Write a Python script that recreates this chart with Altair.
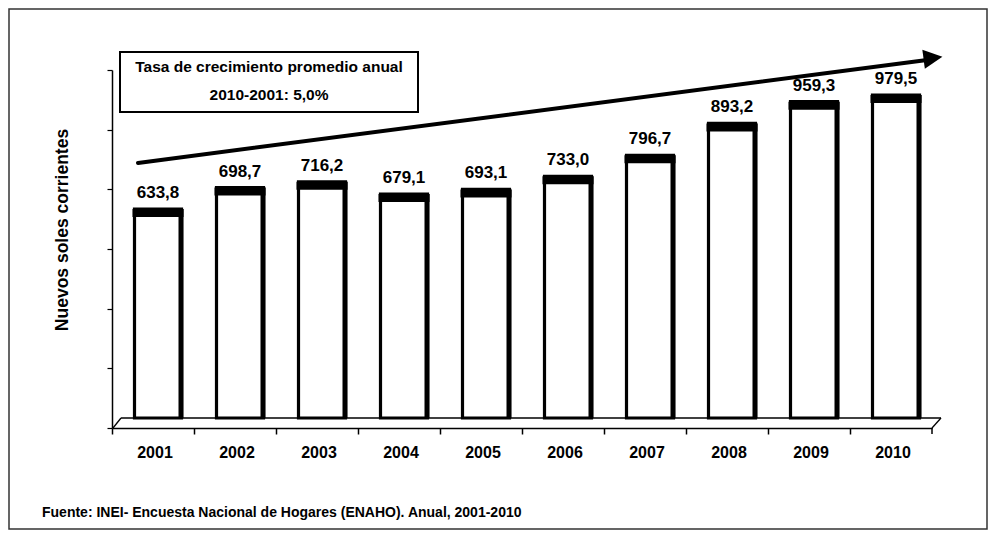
import altair as alt
import pandas as pd

# ---- data ----
years = ["2001", "2002", "2003", "2004", "2005", "2006", "2007", "2008", "2009", "2010"]
ingreso = [633.8, 698.7, 716.2, 679.1, 693.1, 733.0, 796.7, 893.2, 959.3, 979.5]
axis_ticks = [0, 200, 400, 600, 800, 1000, 1200]

box_lines = ["Tasa de crecimiento promedio anual", "2010-2001: 5,0%"]
y_title = "Nuevos soles corrientes"
fuente = "Fuente: INEI- Encuesta Nacional de Hogares (ENAHO). Anual, 2001-2010"

df = pd.DataFrame({"year": years, "ingreso": ingreso})
one = pd.DataFrame({"k": [0]})
FONT = "Liberation Sans"

xenc = alt.X("year:O", scale=alt.Scale(paddingInner=0, paddingOuter=0),
             axis=alt.Axis(title=None, labelFont=FONT, labelFontSize=16, labelFontWeight="bold",
                           labelColor="black", labelAngle=0, labelPadding=10, labelOffset=2,
                           bandPosition=0, tickSize=6, tickColor="black", tickWidth=1.5,
                           domainColor="black", domainWidth=1.5))
yscale = alt.Scale(domain=[-30.3, 1055.3], zero=False, nice=False)
yenc = alt.Y("ingreso:Q", scale=yscale, axis=None)

base = alt.Chart(df)

# y axis layer (independent scale, ticks only)
axis_layer = alt.Chart(pd.DataFrame({"t": axis_ticks})).mark_point(opacity=0).encode(
    y=alt.Y("t:Q", scale=alt.Scale(domain=[0, 1200], nice=False),
            axis=alt.Axis(title=None, values=axis_ticks, labels=False, tickSize=5,
                          tickColor="black", tickWidth=1.2, domainColor="black",
                          domainWidth=1.5, grid=False))
)

# outer border
border = alt.Chart(one).mark_rect(fill=None, stroke="#333", strokeWidth=1.5).encode(
    x=alt.value(-103), x2=alt.value(875), y=alt.value(-61), y2=alt.value(459))

# floor
floor_back = alt.Chart(one).mark_rule(color="black", strokeWidth=1.3).encode(
    x=alt.value(9), x2=alt.value(829), y=alt.value(348), y2=alt.value(348))
floor_left = alt.Chart(one).mark_rule(color="black", strokeWidth=1.3).encode(
    x=alt.value(1), x2=alt.value(9), y=alt.value(358), y2=alt.value(348))
floor_right = alt.Chart(one).mark_rule(color="black", strokeWidth=1.3).encode(
    x=alt.value(820), x2=alt.value(829), y=alt.value(358), y2=alt.value(348))
last_tick = alt.Chart(one).mark_rule(color="black", strokeWidth=1.5).encode(
    x=alt.value(820), y=alt.value(358), y2=alt.value(364))

bars = base.mark_bar(size=47, fill="white", stroke="black", strokeWidth=3.2, xOffset=5).encode(
    x=xenc, y=yenc, y2=alt.datum(0))
tops = base.mark_tick(thickness=8, size=51, color="black", opacity=1, yOffset=4, xOffset=5).encode(
    x=xenc, y=yenc)
right_edge = base.mark_rule(color="black", strokeWidth=5, xOffset=28).encode(
    x=xenc, y=yenc, y2=alt.datum(0))
labels = base.mark_text(font=FONT, fontSize=17, fontWeight="bold", baseline="alphabetic",
                        dy=-11, xOffset=5).transform_calculate(
    lab="replace(format(datum.ingreso, '.1f'), '.', ',')").encode(
    x=xenc, y=yenc, text="lab:N")

# arrow
arrow_line = alt.Chart(one).mark_rule(color="black", strokeWidth=4, strokeCap="round").encode(
    x=alt.value(26), y=alt.value(93), x2=alt.value(815), y2=alt.value(-10))
arrow_head = alt.Chart(one).mark_point(shape="M -1 -1 L 1 0 L -1 1 Z", size=360, filled=True,
                                       color="black", opacity=1, angle=352.5).encode(
    x=alt.value(821), y=alt.value(-12))

# text box
box = alt.Chart(one).mark_rect(fill="white", stroke="black", strokeWidth=2).encode(
    x=alt.value(8), x2=alt.value(306), y=alt.value(-18), y2=alt.value(42))
box_t1 = alt.Chart(one).mark_text(text=box_lines[0], font=FONT, fontSize=15.5, fontWeight="bold",
                                  align="center", baseline="middle").encode(
    x=alt.value(157), y=alt.value(-3))
box_t2 = alt.Chart(one).mark_text(text=box_lines[1], font=FONT, fontSize=15.5, fontWeight="bold",
                                  align="center", baseline="middle").encode(
    x=alt.value(157), y=alt.value(25))

ytitle = alt.Chart(one).mark_text(text=y_title, font=FONT, fontSize=17.5, fontWeight="bold",
                                  angle=270, align="center", baseline="middle").encode(
    x=alt.value(-49), y=alt.value(160))
note = alt.Chart(one).mark_text(text=fuente, font=FONT, fontSize=14, fontWeight="bold",
                                align="left", baseline="alphabetic").encode(
    x=alt.value(-70), y=alt.value(447))

chart = alt.layer(
    border, axis_layer, floor_back, floor_left, floor_right, last_tick,
    bars, right_edge, tops, labels, arrow_line, arrow_head, box, box_t1, box_t2, ytitle, note
).resolve_scale(y="independent").properties(
    width=820, height=358,
    autosize=alt.AutoSizeParams(type="none"),
    padding={"left": 104, "top": 62, "right": 56, "bottom": 102},
    background="white",
).configure_view(stroke=None)

chart.save("out.html", embed_options={"renderer": "svg", "actions": False})
